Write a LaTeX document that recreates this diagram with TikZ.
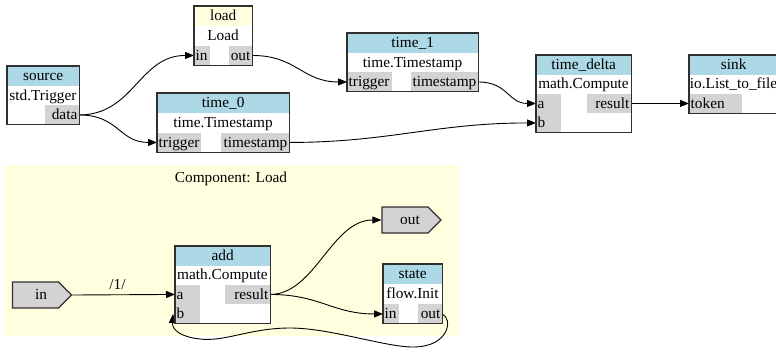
\documentclass[tikz,border=0pt]{standalone}
\usepackage{fontspec}
\setmainfont{Liberation Serif}
\usetikzlibrary{arrows.meta,shapes.symbols}

\definecolor{headblue}{HTML}{ADD8E6}
\definecolor{portgray}{HTML}{D3D3D3}
\definecolor{paleyellow}{HTML}{FFFFE0}
\definecolor{linegray}{HTML}{303030}
\newcommand{\gvfont}{\fontsize{15.3}{18}\selectfont}

\begin{document}
\begin{tikzpicture}[x=1pt,y=-1pt,
    every node/.style={font=\gvfont, inner sep=0pt, text height=11pt, text depth=1.5pt},
    frame/.style={fill=white, anchor=north west},
    head/.style={fill=headblue, anchor=north west, minimum height=19.5pt},
    lport/.style={fill=portgray, anchor=north west, minimum height=19.5pt, inner xsep=1.5pt, align=left, text width=#1},
    rport/.style={fill=portgray, anchor=north east, minimum height=19.5pt, inner xsep=1.5pt, align=right, text width=#1},
    border/.style={draw=linegray, line width=1.2pt},
    flow/.style={-{Triangle[length=9pt,width=7pt]}, line width=0.9pt},
    pin/.style={signal, signal to=east, draw=linegray, line width=1.2pt, fill=portgray, minimum width=59pt, minimum height=26pt}]
    \useasboundingbox (0,0) rectangle (776,351);

    % component cluster
    \node[fill=paleyellow, anchor=north west, minimum width=455pt, minimum height=171pt] (cluster) at (4,165) {};
    \node (cluster-label) at (231,178) {Component: Load};

    % source
    \node[frame, minimum width=72pt, minimum height=58pt] (source) at (7,66) {};
    \node[head, minimum width=72pt] (source-h) at (7,66) {source};
    \node (source-t) at (43,95.3) {std.Trigger};
    \node[rport=31pt] (source-data) at (79,105) {data};

    % load
    \node[frame, minimum width=58pt, minimum height=59pt] (load) at (194,6) {};
    \node[head, fill=paleyellow, minimum width=58pt] (load-h) at (194,6) {load};
    \node (load-t) at (223,35.8) {Load};
    \node[lport=13pt] (load-in) at (194,45.5) {in};
    \node[rport=20pt] (load-out) at (252,45.5) {out};

    % time_0
    \node[frame, minimum width=132pt, minimum height=59pt] (time0) at (157,93) {};
    \node[head, minimum width=132pt] (time0-h) at (157,93) {time\_0};
    \node (time0-t) at (223,122.8) {time.Timestamp};
    \node[lport=41pt] (time0-trigger) at (157,132.5) {trigger};
    \node[rport=65pt] (time0-ts) at (289,132.5) {timestamp};

    % time_1
    \node[frame, minimum width=131pt, minimum height=58pt] (time1) at (347,33) {};
    \node[head, minimum width=131pt] (time1-h) at (347,33) {time\_1};
    \node (time1-t) at (412.5,62.3) {time.Timestamp};
    \node[lport=42pt] (time1-trigger) at (347,72) {trigger};
    \node[rport=64pt] (time1-ts) at (478,72) {timestamp};

    % time_delta
    \node[frame, minimum width=95pt, minimum height=77pt] (tdelta) at (536,55) {};
    \node[head, minimum width=95pt] (tdelta-h) at (536,55) {time\_delta};
    \node (tdelta-t) at (583.5,84) {math.Compute};
    \node[lport=22pt] (tdelta-a) at (536,93.5) {a};
    \node[lport=22pt] (tdelta-b) at (536,113) {b};
    \node[rport=41pt] (tdelta-result) at (631,93.5) {result};

    % sink
    \node[frame, minimum width=89pt, minimum height=58pt] (sink) at (689,55) {};
    \node[head, minimum width=89pt] (sink-h) at (689,55) {sink};
    \node (sink-t) at (733.5,84) {io.List\_to\_file};
    \node[lport=50pt] (sink-token) at (689,93.5) {token};

    % inside the component
    \node[pin] (in) at (35.5,295) {\hspace*{11pt}in};
    \node[pin] (out) at (405,220) {\hspace*{10pt}out};

    \node[frame, minimum width=95pt, minimum height=77pt] (add) at (175,246) {};
    \node[head, minimum width=95pt] (add-h) at (175,246) {add};
    \node (add-t) at (222.5,275) {math.Compute};
    \node[lport=22pt] (add-a) at (175,284.5) {a};
    \node[lport=22pt] (add-b) at (175,304) {b};
    \node[rport=42pt] (add-result) at (270,284.5) {result};

    \node[frame, minimum width=59pt, minimum height=59pt] (state) at (383,264) {};
    \node[head, minimum width=59pt] (state-h) at (383,264) {state};
    \node (state-t) at (412.5,294) {flow.Init};
    \node[lport=13pt] (state-in) at (383,304) {in};
    \node[rport=21pt] (state-out) at (442,304) {out};

    % connections
    \draw[flow] (source-data.east) .. controls +(55,0) and +(-55,0) .. (load-in.west);
    \draw[flow] (source-data.east) .. controls +(40,0) and +(-38,0) .. (time0-trigger.west);
    \draw[flow] (load-out.east) .. controls +(45,0) and +(-45,0) .. (time1-trigger.west);
    \draw[flow] (time1-ts.east) .. controls +(30,0) and +(-28,0) .. (tdelta-a.west);
    \draw[flow] (time0-ts.east) .. controls +(100,0) and +(-100,0) .. (tdelta-b.west);
    \draw[flow] (tdelta-result.east) -- (sink-token.west);

    \draw[flow] (in.east) -- node[pos=0.44, above=3pt] (in-label) {/1/} (add-a.west);
    \draw[flow] (add-result.east) .. controls +(45,0) and +(-50,0) .. (out.west);
    \draw[flow] (add-result.east) .. controls +(50,0) and +(-50,0) .. (state-in.west);
    \draw[flow] (state-out.east) .. controls (453,318) and (450,347) .. (413,347)
        .. controls (385,347) and (330,328) .. (290,328)
        .. controls (250,328) and (225,342) .. (200,339)
        .. controls (181,337) and (172,330) .. ([xshift=-2pt]add-b.west);

    % box outlines on top
    \foreach \b in {source,load,time0,time1,tdelta,sink,add,state}
        \draw[border] (\b.north west) rectangle (\b.south east);
\end{tikzpicture}
\end{document}
